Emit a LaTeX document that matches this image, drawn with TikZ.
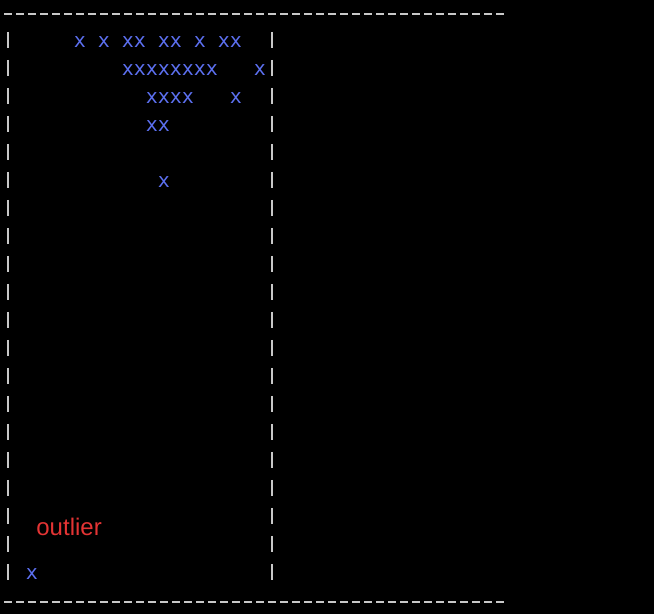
\documentclass[tikz,border=0pt]{standalone}
\usepackage{fontspec}
\newfontfamily\monofont{DejaVu Sans Mono}
\newfontfamily\notefont{Liberation Sans}
\definecolor{dotblue}{RGB}{92,112,240}
\definecolor{framegray}{RGB}{200,200,200}
\definecolor{notered}{RGB}{228,52,52}

\begin{document}
\begin{tikzpicture}[x=0.5pt,y=-0.5pt,
    cross/.style={font=\monofont\fontsize{10}{12}\selectfont, text=dotblue, inner sep=0pt, anchor=base},
    bar/.style={framegray, line width=1pt},
    rule/.style={framegray, line width=1pt, dash pattern=on 4pt off 2pt},
    note/.style={font=\notefont\fontsize{12}{14}\selectfont, text=notered, inner sep=0pt, anchor=base west}]

    % background
    \fill[black] (0,0) rectangle (654,614);

    % draw frame
    \coordinate (topleft) at (4,14);
    \coordinate (topright) at (504,14);
    \coordinate (botleft) at (4,602);
    \coordinate (botright) at (504,602);
    \draw[rule] (topleft) -- (topright);
    \draw[rule] (botleft) -- (botright);
    \foreach \r in {0,...,19} {
        \draw[bar] (8,32+28*\r) -- (8,48+28*\r);
        \draw[bar] (272,32+28*\r) -- (272,48+28*\r);
    }

    % draw points, row/columns
    \foreach \r/\cols in {0/{6,8,10,11,13,14,16,18,19},
                          1/{10,11,12,13,14,15,16,17,21},
                          2/{12,13,14,15,19},
                          3/{12,13},
                          5/{13},
                          19/{2}}
        \foreach \c in \cols
            \node[cross] (pt-\r-\c) at (8+12*\c,48+28*\r) {x};

    % label
    \node[note] (outlier) at (36,536) {outlier};
\end{tikzpicture}
\end{document}
